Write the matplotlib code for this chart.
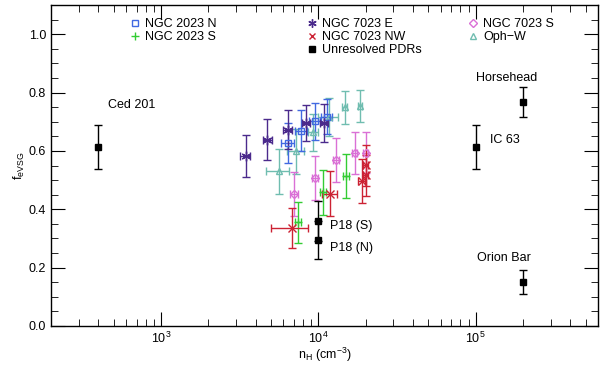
import matplotlib
matplotlib.use("Agg")
import matplotlib.pyplot as plt
from matplotlib.lines import Line2D
from matplotlib.ticker import MultipleLocator, LogLocator, NullFormatter

plt.rcParams['font.family'] = ['Liberation Sans', 'DejaVu Sans']
plt.rcParams['mathtext.fontset'] = 'custom'
plt.rcParams['mathtext.rm'] = 'Liberation Sans'
plt.rcParams['mathtext.it'] = 'Liberation Sans:italic'

# data
ngc2023n_n = [6400, 7800, 9500, 11300]
ngc2023n_f = [0.627, 0.669, 0.702, 0.718]
ngc2023n_ferr = [0.07, 0.07, 0.063, 0.06]
ngc2023n_nerr = [600, 700, 800, 900]

ngc2023s_n = [7400, 10700, 15000]
ngc2023s_f = [0.355, 0.459, 0.513]
ngc2023s_ferr = [0.07, 0.077, 0.076]
ngc2023s_nerr = [300, 400, 600]

ngc7023e_n = [3450, 4750, 6400, 8400, 10900]
ngc7023e_f = [0.584, 0.638, 0.673, 0.696, 0.696]
ngc7023e_ferr = [0.072, 0.07, 0.066, 0.062, 0.064]
ngc7023e_nerr = [250, 300, 400, 500, 600]

ngc7023nw_n = [6800, 11800, 18800, 20000, 20000]
ngc7023nw_f = [0.335, 0.454, 0.497, 0.516, 0.551]
ngc7023nw_ferr = [0.068, 0.076, 0.077, 0.07, 0.07]
ngc7023nw_nerr = [1800, 1300, 1000, 800, 800]

ngc7023s_n = [7000, 9500, 12900, 17000, 20000]
ngc7023s_f = [0.452, 0.507, 0.569, 0.594, 0.594]
ngc7023s_ferr = [0.075, 0.076, 0.074, 0.072, 0.07]
ngc7023s_nerr = [370, 450, 550, 700, 800]

ophw_n = [5600, 7200, 9300, 11700, 14700, 18300]
ophw_f = [0.530, 0.599, 0.664, 0.717, 0.749, 0.753]
ophw_ferr = [0.077, 0.077, 0.063, 0.065, 0.056, 0.055]
ophw_nerr = [950, 850, 700, 1700, 600, 500]

pdr_names = ['Ced 201', 'P18 (S)', 'P18 (N)', 'IC 63', 'Horsehead', 'Orion Bar']
pdr_n = [400, 1e4, 1e4, 1e5, 2e5, 2e5]
pdr_f = [0.614, 0.360, 0.296, 0.614, 0.768, 0.150]
pdr_ferr = [0.075, 0.07, 0.065, 0.075, 0.05, 0.04]

c_2023n = '#4169E1'
c_2023s = '#33CC33'
c_7023e = '#4B2A8C'
c_7023nw = '#CC2233'
c_7023s = '#DA70D6'
c_ophw = '#70BDB0'

fig = plt.figure(figsize=(6, 3.67), dpi=100)
ax = fig.add_axes([0.085, 0.112, 0.912, 0.874])

def errplot(n, f, nerr, ferr, col, mk, ms=5, fill='none'):
    ax.errorbar(n, f, xerr=nerr, yerr=ferr, fmt='', marker=mk, ls='none',
                color=col, ecolor=col, mfc=fill, mec=col, ms=ms, mew=1,
                elinewidth=1, capsize=3, capthick=1)

errplot(ophw_n, ophw_f, ophw_nerr, ophw_ferr, c_ophw, '^')
errplot(ngc7023s_n, ngc7023s_f, ngc7023s_nerr, ngc7023s_ferr, c_7023s, 'D', ms=4.5)
errplot(ngc2023n_n, ngc2023n_f, ngc2023n_nerr, ngc2023n_ferr, c_2023n, 's')
errplot(ngc2023s_n, ngc2023s_f, ngc2023s_nerr, ngc2023s_ferr, c_2023s, '+', ms=6)
errplot(ngc7023nw_n, ngc7023nw_f, ngc7023nw_nerr, ngc7023nw_ferr, c_7023nw, 'x', ms=5.5)
errplot(ngc7023e_n, ngc7023e_f, ngc7023e_nerr, ngc7023e_ferr, c_7023e, (6, 2, 0), ms=7)
ax.errorbar(pdr_n, pdr_f, yerr=pdr_ferr, fmt='s', color='black', ms=4.5,
            elinewidth=1, capsize=3, capthick=1)

# label offsets in pixels (dx, dy) and alignment
lab_off = [(33, 42, 'center'), (12, -5, 'left'), (12, -8, 'left'),
           (14, 7, 'left'), (-16, 24, 'center'), (-19, 24, 'center')]
for name, n, f, (dx, dy, ha) in zip(pdr_names, pdr_n, pdr_f, lab_off):
    ax.annotate(name, (n, f), xytext=(dx, dy), textcoords='offset pixels',
                ha=ha, va='center', fontsize=9)

ax.set_xscale('log')
ax.set_xlim(200, 6e5)
ax.set_ylim(0.0, 1.1)
ax.yaxis.set_major_locator(MultipleLocator(0.2))
ax.yaxis.set_minor_locator(MultipleLocator(0.05))
ax.yaxis.set_major_formatter(matplotlib.ticker.FormatStrFormatter('%.1f'))
ax.xaxis.set_major_locator(LogLocator(base=10))
ax.xaxis.set_minor_locator(LogLocator(base=10, subs=range(2, 10)))
ax.xaxis.set_minor_formatter(NullFormatter())
ax.tick_params(which='both', direction='in', top=True, right=True, labelsize=9)
ax.tick_params(which='major', length=10)
ax.tick_params(which='minor', length=5)
for s in ax.spines.values():
    s.set_linewidth(1)

ax.set_xlabel(r'n$_{\rm H}$ (cm$^{-3}$)', fontsize=9, labelpad=0)
ax.set_ylabel(r'f$_{\rm eVSG}$', fontsize=9, labelpad=1)

def proxy(mk, col, ms=4.5, fill='none'):
    return Line2D([], [], ls='none', marker=mk, mec=col, mfc=fill, ms=ms, mew=1)

legkw = dict(frameon=False, fontsize=9, handlelength=0.8, handletextpad=0.4,
             labelspacing=0.08, borderpad=0, borderaxespad=0, loc='upper left')
l1 = ax.legend([proxy('s', c_2023n), proxy('+', c_2023s, 5.5)],
               ['NGC 2023 N', 'NGC 2023 S'], bbox_to_anchor=(0.145, 0.96), **legkw)
ax.add_artist(l1)
l2 = ax.legend([proxy((6, 2, 0), c_7023e, 6), proxy('x', c_7023nw, 5),
                proxy('s', 'black', 4, 'black')],
               ['NGC 7023 E', 'NGC 7023 NW', 'Unresolved PDRs'],
               bbox_to_anchor=(0.467, 0.96), **legkw)
ax.add_artist(l2)
ax.legend([proxy('D', c_7023s, 4), proxy('^', c_ophw)],
          ['NGC 7023 S', 'Oph\u2212W'], bbox_to_anchor=(0.762, 0.96), **legkw)

fig.savefig('out.png', dpi=100)
